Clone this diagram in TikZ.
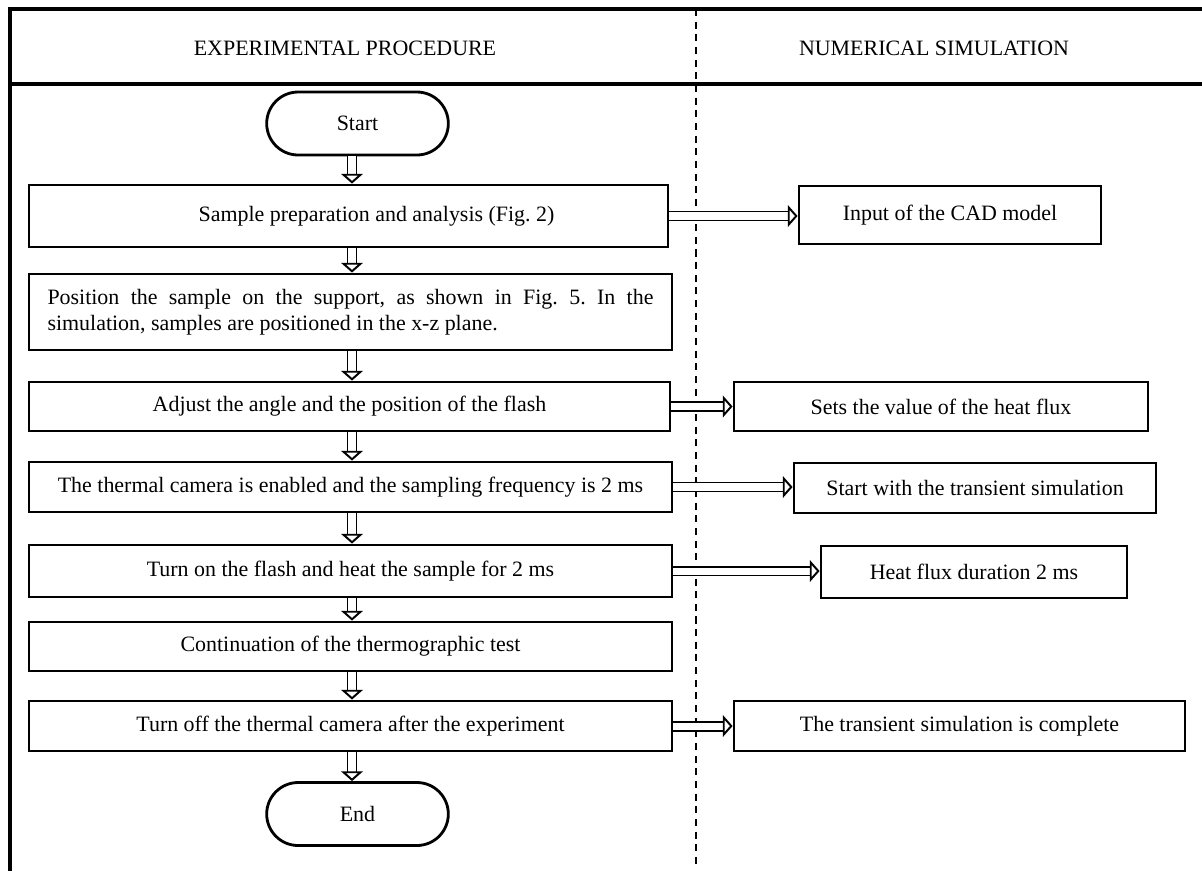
\documentclass[tikz,border=0pt]{standalone}
\usepackage{fontspec}
\setmainfont{Liberation Serif}
\usetikzlibrary{shapes.misc,arrows.meta}
\def\px{0.025cm}
\frenchspacing

\begin{document}
\begin{tikzpicture}[x=0.025cm,y=-0.025cm,
    every node/.style={font=\fontsize{15.6}{18.5}\selectfont},
    stepbox/.style={draw,line width=2pt,inner sep=0pt},
    term/.style={draw,rounded rectangle,line width=2pt,minimum width=191*\px,minimum height=63*\px},
    dblarrow/.style={double,double distance=5pt,line width=1.4pt,
        -{Triangle[open,length=7pt,width=15.5pt,line width=1.4pt 0 0]}}]
    \useasboundingbox (0,0) rectangle (1202,871);

    % frame
    \draw [line width=2.3pt] (1202,9) -- (10,9) -- (10,871);
    \draw [line width=2.3pt] (10,84) -- (1202,84);
    \draw [line width=0.8pt,dash pattern=on 5pt off 4pt] (696,9) -- (696,866);
    \node (hexp) at (345,48) {EXPERIMENTAL PROCEDURE};
    \node (hsim) at (934,48) {NUMERICAL SIMULATION};

    % experimental procedure
    \node [term] (start) at (357.5,123.5) {Start};
    \node [stepbox,minimum width=639*\px,minimum height=62*\px] (prep) at (348.5,216)
        {\hspace*{1.4cm}Sample preparation and analysis (Fig. 2)};
    \node [stepbox,minimum width=643*\px,minimum height=76*\px,text width=606*\px,align=justify] (pos) at (350.5,312)
        {Position the sample on the support, as shown in Fig. 5. In the\linebreak
         simulation, samples are positioned in the x-z plane.};
    \node [stepbox,minimum width=641*\px,minimum height=49*\px] (adj) at (349.5,406.5)
        {Adjust the angle and the position of the flash};
    \node [stepbox,minimum width=643*\px,minimum height=50*\px] (cam) at (350.5,487)
        {The thermal camera is enabled and the sampling frequency is 2 ms};
    \node [stepbox,minimum width=643*\px,minimum height=52*\px] (flash) at (350.5,571)
        {Turn on the flash and heat the sample for 2 ms};
    \node [stepbox,minimum width=643*\px,minimum height=49*\px] (cont) at (350.5,646.5)
        {Continuation of the thermographic test};
    \node [stepbox,minimum width=643*\px,minimum height=50*\px] (off) at (350.5,726)
        {Turn off the thermal camera after the experiment};
    \node [term] (end) at (357.5,814) {End};

    % numerical simulation
    \node [stepbox,minimum width=302*\px,minimum height=58*\px] (cad) at (950,215) {Input of the CAD model};
    \node [stepbox,minimum width=414*\px,minimum height=49*\px] (flux) at (941,406.5) {Sets the value of the heat flux};
    \node [stepbox,minimum width=362*\px,minimum height=50*\px] (trans) at (975,488) {Start with the transient simulation};
    \node [stepbox,minimum width=306*\px,minimum height=52*\px] (dur) at (974,572) {Heat flux duration 2 ms};
    \node [stepbox,minimum width=451*\px,minimum height=50*\px] (done) at (959.5,726) {The transient simulation is complete};

    % arrows
    \coordinate (ax) at (352,0);
    \draw [dblarrow] (ax |- start.south) -- (ax |- prep.north);
    \draw [dblarrow] (ax |- prep.south) -- (ax |- pos.north);
    \draw [dblarrow] (ax |- pos.south) -- (ax |- adj.north);
    \draw [dblarrow] (ax |- adj.south) -- (ax |- cam.north);
    \draw [dblarrow] (ax |- cam.south) -- (ax |- flash.north);
    \draw [dblarrow] (ax |- flash.south) -- (ax |- cont.north);
    \draw [dblarrow] (ax |- cont.south) -- (ax |- off.north);
    \draw [dblarrow] (ax |- off.south) -- (ax |- end.north);
    \draw [dblarrow] (prep.east) -- (prep.east -| cad.west);
    \draw [dblarrow] (adj.east) -- (adj.east -| flux.west);
    \draw [dblarrow] (cam.east) -- (cam.east -| trans.west);
    \draw [dblarrow] (flash.east) -- (flash.east -| dur.west);
    \draw [dblarrow] (off.east) -- (off.east -| done.west);

\end{tikzpicture}
\end{document}
